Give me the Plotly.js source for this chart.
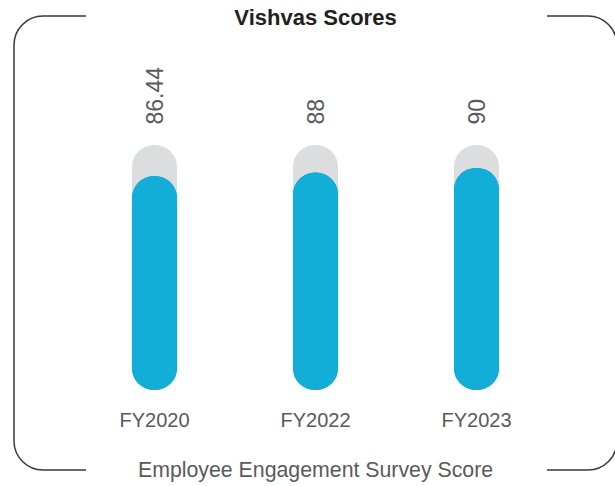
<!DOCTYPE html>
<html>
<head>
<meta charset="utf-8">
<script src="https://cdn.plot.ly/plotly-3.0.1.min.js"></script>
<style>html,body{margin:0;padding:0;background:#fff;}#chart{width:615px;height:486px;}</style>
</head>
<body>
<div id="chart"></div>
<script>
// ---- data ----
const categories = ["FY2020", "FY2022", "FY2023"];
const scores = [86.44, 88, 90];
const maxScores = [100, 100, 100];
const scoreLabels = ["86.44", "88", "90"];
const chartTitle = "Vishvas Scores";
const subTitle = "Employee Engagement Survey Score";

// ---- layout / style constants ----
const W = 615, H = 486;
const M = {l: 74, r: 58, t: 145, b: 96};
const PW = W - M.l - M.r, PH = H - M.t - M.b;
const FLOOR = -7;          // pill bottom extends slightly below zero
const BAR_W = 0.28;
const BLUE = "#12AED8", GREY = "#DCDDDF";
const FONT = "Liberation Sans, Arial, sans-serif";

function px(x){ return (x - M.l) / PW; }
function py(y){ return (H - M.b - y) / PH; }
function pt(x, y){ return px(x).toFixed(5) + "," + py(y).toFixed(5); }

// frame (rounded rectangle with gaps top & bottom)
const fl = 14, fr = 617, ft = 16, fb = 470, rr = 29, k = 0.5523 * rr, gL = 86, gR = 547;
const leftPath = "M" + pt(gL, ft) + " L" + pt(fl + rr, ft) +
  " C" + pt(fl + rr - k, ft) + " " + pt(fl, ft + rr - k) + " " + pt(fl, ft + rr) +
  " L" + pt(fl, fb - rr) +
  " C" + pt(fl, fb - rr + k) + " " + pt(fl + rr - k, fb) + " " + pt(fl + rr, fb) +
  " L" + pt(gL, fb);
const rightPath = "M" + pt(gR, ft) + " L" + pt(fr - rr, ft) +
  " C" + pt(fr - rr + k, ft) + " " + pt(fr, ft + rr - k) + " " + pt(fr, ft + rr) +
  " L" + pt(fr, fb - rr) +
  " C" + pt(fr, fb - rr + k) + " " + pt(fr - rr + k, fb) + " " + pt(fr - rr, fb) +
  " L" + pt(gR, fb);

const floorArr = categories.map(() => FLOOR);

const traces = [
  // grey track: upper rounded end
  {type: "bar", x: categories, base: floorArr, y: maxScores.map(v => v - FLOOR),
   width: BAR_W, marker: {color: GREY, cornerradius: "50%", line: {width: 0}}, hoverinfo: "skip"},
  // blue: rounded top
  {type: "bar", x: categories, base: floorArr, y: scores.map(v => v - FLOOR),
   width: BAR_W, marker: {color: BLUE, cornerradius: "50%", line: {width: 0}}, hoverinfo: "skip"},
  // blue: rounded bottom
  {type: "bar", x: categories, base: scores, y: scores.map(v => FLOOR - v),
   width: BAR_W, marker: {color: BLUE, cornerradius: "50%", line: {width: 0}}, hoverinfo: "skip"}
];

const annotations = categories.map((c, i) => ({
  x: c, y: maxScores[i], xref: "x", yref: "y", text: scoreLabels[i],
  textangle: -90, showarrow: false, xanchor: "center", yanchor: "bottom", yshift: 18,
  font: {family: FONT, size: 23, color: "#5a5a5a"}
}));
annotations.push({
  xref: "paper", yref: "paper", x: px(315.5), y: py(470), text: subTitle,
  showarrow: false, xanchor: "center", yanchor: "middle",
  font: {family: FONT, size: 21.3, color: "#5a5a5a"}
});

const layout = {
  width: W, height: H,
  margin: M,
  paper_bgcolor: "#fff", plot_bgcolor: "#fff",
  barmode: "overlay",
  showlegend: false,
  title: {text: "<b>" + chartTitle + "</b>", xref: "container", yref: "container",
          x: 0.513, y: 1 - 17 / H, xanchor: "center", yanchor: "middle",
          font: {family: FONT, size: 22, color: "#231f20"}},
  xaxis: {type: "category", range: [-0.5, 2.5], showgrid: false, zeroline: false, showline: false,
          ticks: "outside", ticklen: 12, tickcolor: "rgba(0,0,0,0)",
          tickfont: {family: FONT, size: 20, color: "#5a5a5a"}, fixedrange: true},
  yaxis: {range: [FLOOR, 100], visible: false, showgrid: false, zeroline: false, fixedrange: true},
  annotations: annotations,
  shapes: [
    {type: "path", xref: "paper", yref: "paper", path: leftPath, line: {color: "#3a3a3a", width: 1.5}},
    {type: "path", xref: "paper", yref: "paper", path: rightPath, line: {color: "#3a3a3a", width: 1.5}}
  ]
};

Plotly.newPlot("chart", traces, layout, {displayModeBar: false, staticPlot: true});
</script>
</body>
</html>
